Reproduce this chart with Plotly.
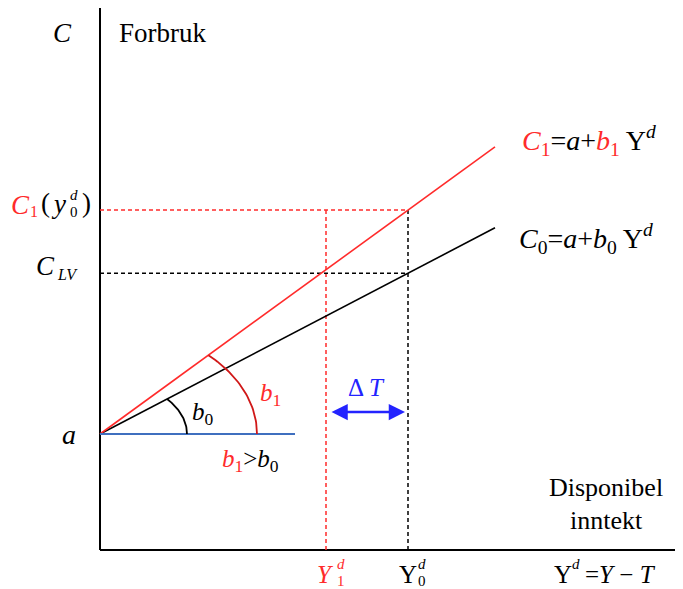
import numpy as np
import plotly.graph_objects as go

# ---- data (model units) ----
a = 116            # autonomous consumption (intercept)
b0 = 0.522         # marginal propensity to consume, before tax cut
b1 = 0.727         # after
Y_end = 395        # end of drawn consumption lines
Y0 = 308           # disposable income Y0^d
Y1 = 226           # disposable income Y1^d
blue_len = 195     # horizontal reference line length
arc_b0 = (87, 55)  # ellipse radii of angle markers
arc_b1 = (157, 109)
x_axis_end = 583
y_axis_end = 542

C_LV = a + b0 * Y0
C1_Y0 = a + b1 * Y0

RED = "#ff2b2b"
DARKRED = "#d01818"
BLACK = "#000000"
BLUE = "#2323ff"
STEEL = "#3f6fbf"
FONT = "Liberation Serif, Times New Roman, DejaVu Serif, serif"

# page body has an 8px margin: shrink figure and shift ranges accordingly
OFF = 8
W, H = 683 - OFF, 589 - OFF

fig = go.Figure()

def line(x, y, color, width=1.6, dash=None):
    fig.add_trace(go.Scatter(x=x, y=y, mode="lines",
                             line=dict(color=color, width=width, dash=dash),
                             hoverinfo="skip"))

# axes
line([0, 0], [0, y_axis_end], BLACK, 2)
line([0, x_axis_end], [0, 0], BLACK, 2)

# dashed guides
DASH = "4px,3px"
line([0, Y0], [C1_Y0, C1_Y0], RED, 1.5, DASH)
line([Y1, Y1], [0, C1_Y0], RED, 1.5, DASH)
line([0, Y0], [C_LV, C_LV], BLACK, 1.5, DASH)
line([Y0, Y0], [0, C1_Y0], BLACK, 1.5, DASH)

# consumption lines
line([0, Y_end], [a, a + b0 * Y_end], BLACK, 1.6)
line([0, Y_end], [a, a + b1 * Y_end], RED, 1.6)
line([0, blue_len], [a, a], STEEL, 2)

# angle arcs (elliptical)
def arc(radii, slope, color):
    rx, ry = radii
    tmax = np.arctan(slope * rx / ry)
    t = np.linspace(0, tmax, 40)
    line(rx * np.cos(t), a + ry * np.sin(t), color, 1.8)

arc(arc_b0, b0, BLACK)
arc(arc_b1, b1, DARKRED)

# Delta T arrow
fig.add_annotation(x=Y0 - 3, y=138, ax=Y1 + 4, ay=138, xref="x", yref="y",
                   axref="x", ayref="y", showarrow=True, arrowhead=2,
                   arrowside="end+start", arrowsize=1.3, arrowwidth=2.5,
                   arrowcolor=BLUE, text="")

def txt(x, y, s, size=26, color=BLACK, xanchor="center"):
    fig.add_annotation(x=x - 100, y=550 - y, xref="x", yref="y", text=s,
                       showarrow=False, xanchor=xanchor, yanchor="middle",
                       font=dict(family=FONT, size=size, color=color))

def red(s):
    return f'<span style="color:{RED}">{s}</span>'

# top-left labels
txt(62, 33, "<i>C</i>", 27)
txt(162, 33, "Forbruk", 27)

# C1(y0^d)
txt(20, 205, "<i>C</i>", 27, RED)
txt(34, 211, "1", 16, RED)
txt(45, 203, "(", 27)
txt(58, 204, "<i>y</i>", 27)
txt(74, 195, "<i>d</i>", 15)
txt(74, 212, "0", 15)
txt(86, 203, ")", 27)

# C_LV
txt(45, 266, "<i>C</i>", 27)
txt(67, 274, "<i>LV</i>", 16)

txt(69, 434, "<i>a</i>", 28)

# equations
txt(520, 140, red("<i>C</i><sub>1</sub>") + "=<i>a</i>+" + red("<i>b</i><sub>1</sub>") +
    " Y<sup><i>d</i></sup>", 28, xanchor="left")
txt(517, 238, "<i>C</i><sub>0</sub>=<i>a</i>+<i>b</i><sub>0</sub> Y<sup><i>d</i></sup>", 28,
    xanchor="left")

# angle labels
txt(203, 413, "<i>b</i><sub>0</sub>", 25)
txt(270, 394, red("<i>b</i><sub>1</sub>"), 25)
txt(250, 460, red("<i>b</i><sub>1</sub>") + "&gt;<i>b</i><sub>0</sub>", 25)
txt(366, 387, "Δ <i>T</i>", 25, BLUE)

# x-axis title
txt(606, 487, "Disponibel", 26)
txt(606, 520, "inntekt", 26)

# bottom labels
txt(325, 574, "<i>Y</i>", 25, RED)
txt(341, 564, "<i>d</i>", 15, RED)
txt(341, 581, "1", 15, RED)
txt(408, 574, "Y", 25)
txt(422, 564, "<i>d</i>", 15)
txt(422, 581, "0", 15)
txt(563, 574, "Y", 25)
txt(576, 564, "<i>d</i>", 15)
txt(620, 574, "=<i>Y</i> − <i>T</i>", 25)

fig.update_layout(
    width=W, height=H, margin=dict(l=0, r=0, t=0, b=0),
    paper_bgcolor="white", plot_bgcolor="white", showlegend=False,
    font=dict(family=FONT),
    xaxis=dict(range=[-100 + OFF, -100 + OFF + W], visible=False, fixedrange=True),
    yaxis=dict(range=[550 - OFF - H, 550 - OFF], visible=False, fixedrange=True),
)
fig.write_html("out.html")
